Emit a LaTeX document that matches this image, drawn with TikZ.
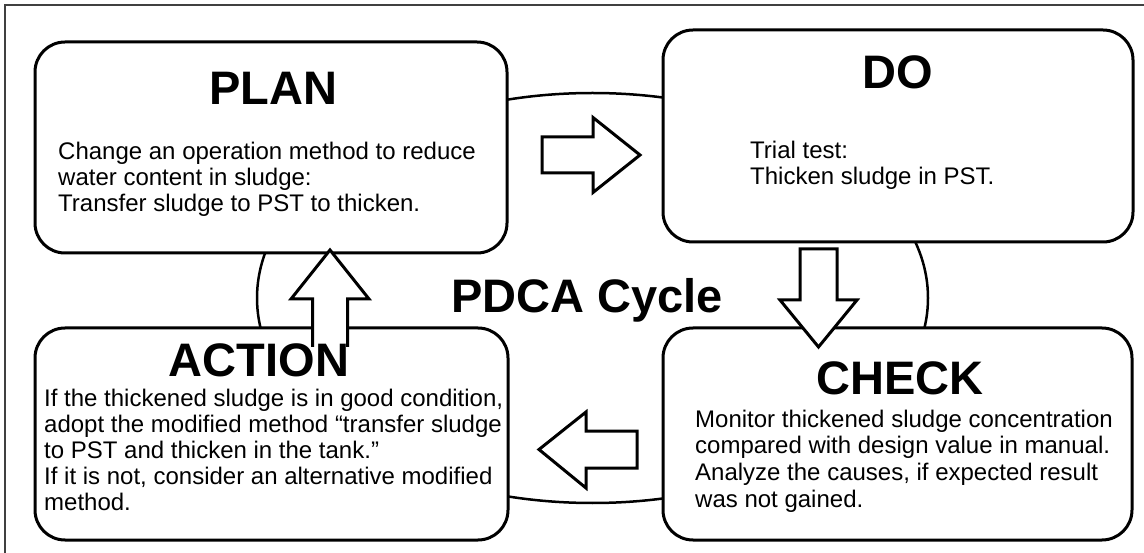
\documentclass[tikz,border=0pt]{standalone}
\usepackage{fontspec}
\setmainfont{Liberation Sans}
\begin{document}
\begin{tikzpicture}[x=1pt,y=-1pt,
  stagebox/.style={draw=black, line width=3pt, fill=white, rounded corners=30pt, inner sep=0pt},
  cyclepath/.style={draw=black, line width=2.5pt},
  blockarrow/.style={draw=black, line width=3pt, line join=miter, fill=white},
  arrowfill/.style={fill=white},
  arrowline/.style={draw=black, line width=3pt, line join=miter},
  titletext/.style={inner sep=0pt, anchor=base, font=\fontsize{47}{52}\selectfont\bfseries},
  bodytext/.style={inner sep=0pt, anchor=north west, align=left, font=\fontsize{24}{26}\selectfont},
  frameline/.style={draw=black!75, line width=1.3pt}]
\useasboundingbox (0,0) rectangle (1144,553);
\clip (0,0) rectangle (1144,553);
% outer frame (right and bottom edges fall outside the picture)
\draw[frameline] (5,5) rectangle (1170,580);
% cycle ellipse
\draw[cyclepath] (592.5,298) ellipse [x radius=335.5pt, y radius=205pt];
% stage boxes
\node[stagebox, minimum width=472pt, minimum height=211pt] (plan) at (271,147.5) {};
\node[stagebox, minimum width=470pt, minimum height=212pt] (do) at (898,136) {};
\node[stagebox, minimum width=469pt, minimum height=212pt] (check) at (897.5,434) {};
\node[stagebox, minimum width=473pt, minimum height=212pt] (action) at (271.5,434) {};
% block arrows
\draw[blockarrow] (542,137) -- (593,137) -- (593,117.5) -- (640,155) -- (593,192.5) -- (593,173) -- (542,173) -- cycle;
\draw[blockarrow] (800,249) -- (837,249) -- (837,300) -- (857,300) -- (818.5,347) -- (780,300) -- (800,300) -- cycle;
\draw[blockarrow] (637,431) -- (586,431) -- (586,412) -- (539,449.5) -- (586,488) -- (586,468) -- (637,468) -- cycle;
\fill[arrowfill] (312.5,347) -- (312.5,299) -- (291,299) -- (330,250) -- (369,299) -- (347.5,299) -- (347.5,347) -- cycle;
\draw[arrowline] (312.5,347) -- (312.5,299) -- (291,299) -- (330,250) -- (369,299) -- (347.5,299) -- (347.5,347);
% titles
\node[titletext] (plantitle) at (273,105) {PLAN};
\node[titletext] (dotitle) at (898,89) {DO};
\node[titletext] (checktitle) at (900,395) {CHECK};
\node[titletext] (actiontitle) at (259,377) {ACTION};
\node[titletext] (pdca) at (587,313) {PDCA Cycle};
% body texts
\node[bodytext] (plantext) at (58,139) {\rule{0pt}{20pt}Change an operation method to reduce\\water content in sludge:\\Transfer sludge to PST to thicken.};
\node[bodytext] (dotext) at (750,138) {\rule{0pt}{20pt}Trial test:\\Thicken sludge in PST.};
\node[bodytext, font=\fontsize{24}{26.7}\selectfont] (checktext) at (695,407) {\rule{0pt}{20pt}Monitor thickened sludge concentration\\compared with design value in manual.\\Analyze the causes, if expected result\\was not gained.};
\node[bodytext] (actiontext) at (44,386.5) {\rule{0pt}{20pt}If the thickened sludge is in good condition,\\adopt the modified method “transfer sludge\\to PST and thicken in the tank.”\\If it is not, consider an alternative modified\\method.};
\end{tikzpicture}
\end{document}
